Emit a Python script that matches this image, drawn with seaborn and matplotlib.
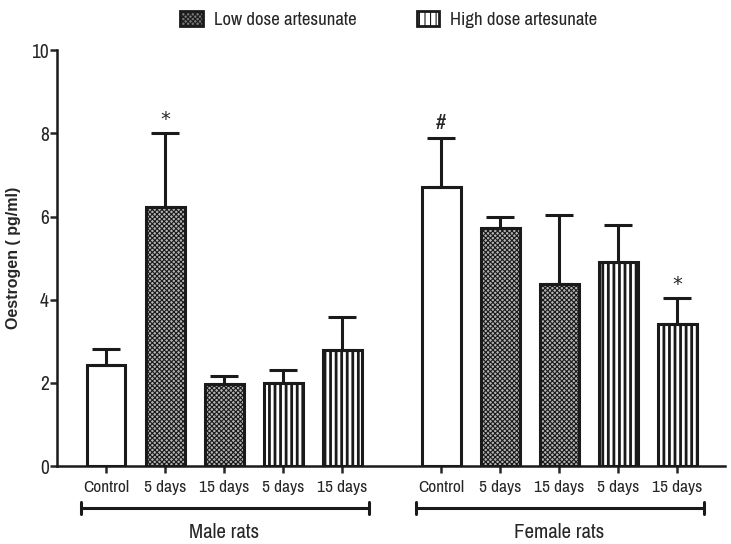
import numpy as np
import pandas as pd
import seaborn as sns
import matplotlib.pyplot as plt
from matplotlib.patches import Patch

# bar values
groups = ["Male rats"] * 5 + ["Female rats"] * 5
labels = ["Control", "5 days", "15 days", "5 days", "15 days"] * 2
doses = ["Control", "Low", "Low", "High", "High"] * 2
means = [2.42, 6.22, 1.97, 2.00, 2.79, 6.70, 5.72, 4.37, 4.90, 3.41]
sems = [0.39, 1.78, 0.19, 0.32, 0.79, 1.18, 0.28, 1.66, 0.89, 0.63]
marks = ["", "*", "", "", "", "#", "", "", "", "*"]

# x positions: second group shifted to leave a gap
gap = 5.68
pos = [i if g == "Male rats" else gap + i - 5 for i, g in enumerate(groups)]

df = pd.DataFrame({"pos": pos, "mean": means, "dose": doses})

sns.set_style("ticks")
narrow = ["Archivo Narrow", "DejaVu Sans"]
plt.rcParams["font.family"] = narrow
plt.rcParams["hatch.color"] = "#222222"
plt.rcParams["hatch.linewidth"] = 0.8

fig = plt.figure(figsize=(7.31, 5.44), dpi=100)
ax = fig.add_axes([0.078, 0.143, 0.914, 0.765])

sns.barplot(data=df, x="pos", y="mean", native_scale=True, width=0.66,
            color="white", edgecolor="#1a1a1a", linewidth=2.2, errorbar=None, ax=ax)

styles = {"Control": ("white", "", 0.8),
          "Low": ("#b4b4b4", "xxxxxxx", 0.8),
          "High": ("white", "|||", 2.0)}
for patch, d in zip(ax.patches, doses):
    fc, h, hw = styles[d]
    patch.set_facecolor(fc)
    patch.set_hatch(h)
    patch.set_hatch_linewidth(hw)

ax.errorbar(pos, means, yerr=[np.zeros(len(means)), sems], fmt="none",
            ecolor="#1a1a1a", elinewidth=2.2, capsize=10, capthick=2.2, zorder=5)

for x, m, s, t in zip(pos, means, sems, marks):
    if t == "*":
        ax.annotate(t, (x, m + s), xytext=(0, 3), textcoords="offset points",
                    ha="center", va="bottom", fontsize=14, family=["DejaVu Sans"])
    elif t:
        ax.annotate(t, (x, m + s), xytext=(0, 4), textcoords="offset points",
                    ha="center", va="bottom", fontsize=16)

ax.set_xlim(-0.83, 10.49)
ax.set_ylim(0, 10)
ax.set_yticks([0, 2, 4, 6, 8, 10])
ax.set_xticks(pos)
ax.set_xticklabels(labels, fontsize=12.5)
ax.tick_params(axis="y", labelsize=14, width=1.8, length=5, pad=1)
ax.tick_params(axis="x", width=1.8, length=5, pad=5)
ax.set_xlabel("")
ax.set_ylabel("Oestrogen ( pg/ml)", fontsize=11.5, fontweight="bold",
              family=["Liberation Sans", "DejaVu Sans"])
ax.yaxis.set_label_coords(-0.054, 0.5)
sns.despine(ax=ax)
for sp in ["left", "bottom"]:
    ax.spines[sp].set_linewidth(1.8)
    ax.spines[sp].set_color("#1a1a1a")

# group brackets below the axis
trans = ax.get_xaxis_transform()
for name, start in [("Male rats", 0), ("Female rats", gap)]:
    x0, x1 = start - 0.43, start + 4.45
    ax.plot([x0, x1], [-0.101, -0.101], color="#1a1a1a", lw=2.2, transform=trans, clip_on=False)
    for xe in (x0, x1):
        ax.plot([xe, xe], [-0.087, -0.115], color="#1a1a1a", lw=2.2, transform=trans, clip_on=False)
    ax.text(start + 2, -0.16, name, transform=trans, ha="center", va="center", fontsize=15)

handles = [Patch(facecolor="#777777", edgecolor="#1a1a1a", hatch="xxxxxxx", lw=2, label="Low dose artesunate"),
           Patch(facecolor="white", edgecolor="#1a1a1a", hatch="|||", lw=2, label="High dose artesunate")]
fig.legend(handles=handles, loc="upper center", bbox_to_anchor=(0.532, 1.01), ncol=2,
           frameon=False, fontsize=13.5, handlelength=1.2, handleheight=0.8,
           handletextpad=0.6, columnspacing=3.2)

fig.savefig("out.png", dpi=100)
